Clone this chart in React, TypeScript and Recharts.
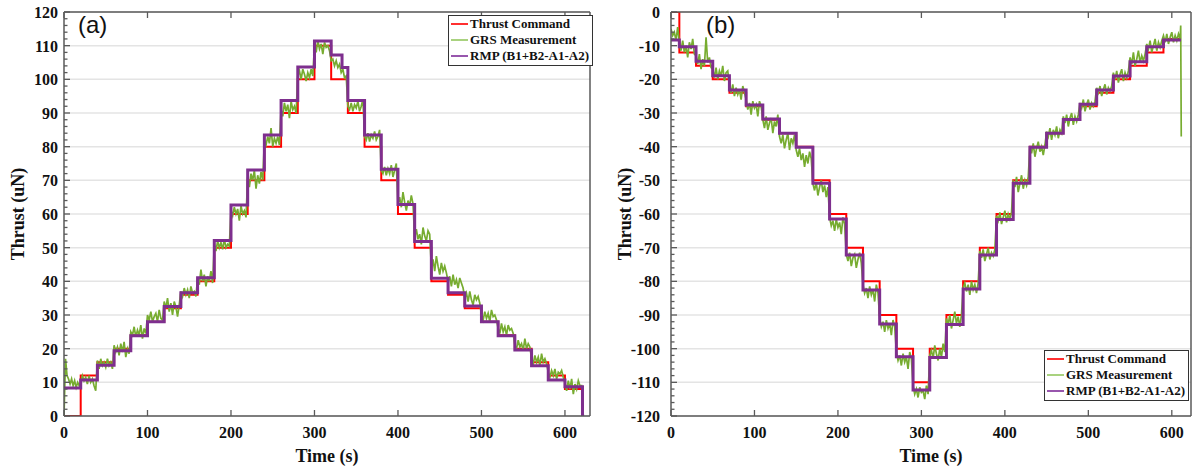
import { LineChart, Line, XAxis, YAxis, CartesianGrid, Legend } from 'recharts';

// series names / colours (legend order = draw order)
const seriesNames = ['Thrust Command', 'GRS Measurement', 'RMP (B1+B2-A1-A2)'];
const seriesColors = ['#ff0000', '#77ac30', '#7e2f8e'];
const legendSwatch = ['#ff3030', '#a9d27f', '#9856ad'];

const axisColor = '#5a5a5a';
const serif = '"Liberation Serif", "Times New Roman", serif';

// ---------- panel (a) ----------
const xTicksA = [0, 100, 200, 300, 400, 500, 600];
const yMajorA = [0, 10, 20, 30, 40, 50, 60, 70, 80, 90, 100, 110, 120];

const cmdTimesA = [0, 20, 40, 60, 80, 100, 120, 140, 160, 180, 200, 220, 240, 260, 280, 300, 320, 340, 360, 380, 400, 420, 440, 460, 480, 500, 520, 540, 560, 580, 600, 621];
const cmdValuesA = [0, 12, 16, 20, 24, 28, 32, 36, 40, 50, 60, 70, 80, 90, 100, 110, 100, 90, 80, 70, 60, 50, 40, 36, 32, 28, 24, 20, 16, 12, 8, 0];

const rmpTimesA = [0, 20, 40, 60, 80, 100, 120, 140, 160, 180, 200, 220, 240, 260, 280, 300, 320, 333, 340, 360, 380, 400, 420, 440, 460, 480, 500, 520, 540, 560, 580, 600, 621, 623];
const rmpValuesA = [8.3, 10.7, 15.1, 19.4, 23.8, 28, 32.5, 36.6, 41.1, 52.1, 62.7, 73.1, 83.5, 93.7, 103.7, 111.4, 107.2, 103.5, 93.7, 83.5, 73.3, 62.8, 51.8, 40.9, 36.6, 32.7, 28, 23.8, 19.6, 14.9, 10.7, 8.7, 0, 0];

const grsStartsA = [0, 20, 40, 60, 80, 100, 120, 140, 160, 180, 200, 220, 240, 260, 280, 300, 320, 340, 360, 380, 400, 420, 440, 460, 480, 500, 520, 540, 560, 580, 600, 620, 622];
const grsA = [
  [0, 17, 12, 11, 9.5, 11, 9, 10.5, 8.5, 10, 9],
  [10, 12, 10.5, 11.5, 9.5, 12, 10, 11, 9, 7.5],
  [16.5, 14, 17, 15, 16, 14.5, 17, 15, 16, 14],
  [21, 19, 20.5, 18, 21.5, 19, 22, 17.5, 20, 18.5],
  [25, 24, 26.5, 23.5, 25.5, 24, 27, 23, 26, 24.5],
  [30, 28.5, 31, 28, 29.5, 30.5, 28, 31.5, 29, 28.5],
  [34, 32, 35, 31, 33.5, 30, 34, 32.5, 29.5, 33],
  [37, 35.5, 38, 36, 37.5, 35, 38.5, 36.5, 37, 35.5],
  [41, 39, 43.5, 40, 42, 38.5, 41.5, 40, 43, 39.5],
  [51, 49, 52, 50, 51.5, 49.5, 52.5, 50, 51, 50.5],
  [61, 59.5, 62, 60, 61.5, 58, 62.5, 60, 61, 59],
  [71, 68, 72, 70, 73, 67.5, 71.5, 69, 72.5, 70],
  [82, 80.5, 83, 81, 85.5, 80, 82.5, 81, 83, 80.5],
  [91, 89, 93, 90.5, 92.5, 88.5, 93.5, 91, 92, 90],
  [101, 102.5, 100, 103, 101.5, 99.5, 102, 100.5, 103, 101],
  [110, 108, 111.5, 109, 110.5, 107.5, 111, 109.5, 110, 108.5],
  [105.5, 106, 104, 105.5, 103.5, 104.5, 102, 103, 100.5, 101],
  [92, 91, 93, 90.5, 92.5, 91.5, 93.5, 90.5, 92, 94],
  [83, 82, 84, 81.5, 83.5, 82.5, 84.5, 82, 83, 85],
  [73, 72, 74, 71.5, 73.5, 72, 74.5, 71, 73, 75],
  [63, 65, 62, 66.5, 63.5, 61, 64, 62.5, 65.5, 63],
  [53, 55.5, 52.5, 54, 51, 56, 53.5, 52, 55, 54],
  [44, 46.5, 43, 47.5, 44.5, 42, 45.5, 43, 44.5, 42.5],
  [40, 41.5, 38.5, 42, 39, 40.5, 38, 41, 39.5, 38],
  [35, 36.5, 34, 37, 34.5, 33, 36, 34.5, 35.5, 33.5],
  [30, 28.5, 31, 29, 30.5, 28, 31.5, 29.5, 30, 28.5],
  [26, 24.5, 27.5, 25, 26.5, 24, 27, 25.5, 26, 24.5],
  [21, 20, 22.5, 20.5, 21.5, 19.5, 23, 20, 21.5, 20.5],
  [17, 15.5, 18, 16, 17.5, 15, 18.5, 16, 17, 15.5],
  [13, 11.5, 13.5, 12, 14, 11, 13, 12.5, 13.5, 11.5],
  [10, 7.5, 10.5, 8, 11, 6.5, 9.5, 8, 10.5, 9],
  [9, 9],
];

// ---------- panel (b) ----------
const xTicksB = [0, 100, 200, 300, 400, 500, 600];
const yMajorB = [-120, -110, -100, -90, -80, -70, -60, -50, -40, -30, -20, -10, 0];

const cmdTimesB = [0, 10, 30, 50, 70, 90, 110, 130, 150, 170, 190, 210, 230, 250, 270, 290, 310, 330, 350, 370, 390, 410, 430, 450, 470, 490, 510, 530, 550, 570, 590, 611];
const cmdValuesB = [0, -12, -16, -20, -24, -28, -32, -36, -40, -50, -60, -70, -80, -90, -100, -110, -100, -90, -80, -70, -60, -50, -40, -36, -32, -28, -24, -20, -16, -12, -8, -8];

const rmpTimesB = cmdTimesB;
const rmpValuesB = [-8.3, -10.3, -14.6, -18.9, -23.2, -27.6, -31.8, -36, -40.2, -50.9, -61.5, -72.2, -82.6, -92.7, -102.4, -112.3, -102.6, -92.8, -82.3, -72.2, -61.6, -50.9, -40.2, -36, -31.9, -27.4, -23.2, -19, -14.8, -10.3, -8.3, -8.3];

const grsStartsB = [0, 10, 30, 50, 70, 90, 110, 130, 150, 170, 190, 210, 230, 250, 270, 290, 310, 330, 350, 370, 390, 410, 430, 450, 470, 490, 510, 530, 550, 570, 590, 610, 612];
const grsB = [
  [-5, -7, -6, -8.5, -4.5],
  [-9, -11.5, -8.5, -12, -10, -13.5, -9, -11, -8, -12.5],
  [-13, -15.5, -12.5, -17, -14, -16, -7.5, -15, -13.5, -16.5],
  [-17, -19.5, -16.5, -20, -17.5, -19, -16, -20.5, -18, -17.5],
  [-22, -24, -21.5, -25, -22.5, -24.5, -23, -26, -22, -24],
  [-26, -29, -27, -30.5, -26.5, -28.5, -27.5, -31, -26.5, -28],
  [-32, -34.5, -31, -35, -33, -31.5, -36, -32.5, -34, -30.5],
  [-37, -39, -36.5, -40.5, -38, -36, -41, -37.5, -39, -36.5],
  [-41, -43, -40.5, -44, -42, -46, -42.5, -45, -41.5, -43.5],
  [-51, -53, -50.5, -54.5, -52, -50, -53.5, -51.5, -55, -52],
  [-61, -63.5, -62, -65, -61.5, -64, -62.5, -66, -61, -63],
  [-72, -74, -71.5, -75.5, -73, -72, -76, -73.5, -71.5, -74.5],
  [-81, -83.5, -82, -85, -81.5, -84, -82.5, -86, -81, -83.5],
  [-91, -93.5, -92, -95, -91.5, -94, -92.5, -96, -91.5, -93.5],
  [-101, -103.5, -102, -105, -101.5, -104, -102.5, -106, -101, -103],
  [-111, -113.5, -112, -114.5, -111.5, -113, -112.5, -115, -111, -113.5],
  [-102, -100.5, -103, -99, -101.5, -103.5, -100, -102.5, -98.5, -101],
  [-91, -93, -90, -94, -91.5, -89, -92.5, -90.5, -93.5, -90],
  [-82, -80.5, -83, -81, -84, -80, -82.5, -81, -83.5, -80.5],
  [-71, -73, -70.5, -74, -72, -70, -73.5, -71.5, -72.5, -70.5],
  [-60.5, -62, -59.5, -63, -61, -59, -62.5, -60, -61.5, -59.5],
  [-50, -52, -49, -53.5, -51, -48.5, -52.5, -50, -51.5, -49],
  [-40, -42, -39, -43, -40.5, -38.5, -41.5, -40, -42.5, -39.5],
  [-35.5, -37, -34.5, -38, -35, -36.5, -34, -37.5, -35, -36],
  [-31, -33, -30.5, -34, -31.5, -30, -33.5, -31, -32.5, -30.5],
  [-27, -28.5, -26, -29.5, -27.5, -26, -29, -27, -28, -26.5],
  [-22.5, -24, -22, -25, -23, -21.5, -24.5, -22.5, -23.5, -22],
  [-18, -20, -17.5, -21, -18.5, -17, -20.5, -18, -19.5, -17.5],
  [-13.5, -15.5, -12, -16, -14, -11.5, -15, -13, -14.5, -12.5],
  [-9.5, -11, -8.5, -12, -10, -8, -11.5, -9, -10.5, -8.5],
  [-7, -9, -6.5, -9.5, -7.5, -6, -9, -7, -8.5, -6.5],
  [-8, -4, -37],
];

// helpers to turn the arrays into {t, v} points
const toSteps = (ts: number[], vs: number[]) => ts.map((t, i) => ({ t, v: vs[i] }));
const toSamples = (starts: number[], rows: number[][]) =>
  rows.flatMap((row, k) =>
    row.map((v, i) => ({ t: starts[k] + (i * (starts[k + 1] - starts[k])) / row.length, v }))
  );

// minor ticks every 2 units between the labelled ones
const withMinor = (major: number[]) => {
  const out: number[] = [];
  for (let v = major[0]; v <= major[major.length - 1]; v += 2) out.push(v);
  return out;
};

const LeftTick = ({ x, y, payload, gap }: any) => {
  const major = payload.value % 10 === 0;
  return (
    <g>
      <line x1={x} x2={x + (major ? 6 : 3.5)} y1={y} y2={y} stroke={axisColor} strokeWidth={1.3} />
      {major && (
        <text x={x - gap} y={y} dy={6} textAnchor="end" fontFamily={serif} fontWeight="bold" fontSize={16} fill="#111">
          {payload.value}
        </text>
      )}
    </g>
  );
};

const RightTick = ({ x, y, payload }: any) => {
  const major = payload.value % 10 === 0;
  return <line x1={x} x2={x - (major ? 6 : 3.5)} y1={y} y2={y} stroke={axisColor} strokeWidth={1.3} />;
};

const BottomTick = ({ x, y, payload }: any) => (
  <g>
    <line x1={x} x2={x} y1={y} y2={y - 6} stroke={axisColor} strokeWidth={1.3} />
    <text x={x} y={y + 22} textAnchor="middle" fontFamily={serif} fontWeight="bold" fontSize={16} fill="#111">
      {payload.value}
    </text>
  </g>
);

const TopTick = ({ x, y }: any) => (
  <line x1={x} x2={x} y1={y} y2={y + 6} stroke={axisColor} strokeWidth={1.3} />
);

const LegendBox = () => (
  <div
    style={{
      border: '1px solid #333',
      background: '#fff',
      padding: '0px 3px 1px 2px',
      fontFamily: serif,
      fontWeight: 'bold',
      fontSize: 13,
      lineHeight: '16px',
      color: '#111',
    }}
  >
    {seriesNames.map((n, i) => (
      <div key={n} style={{ display: 'flex', alignItems: 'center', whiteSpace: 'nowrap' }}>
        <span style={{ display: 'inline-block', width: 17, height: 2, background: legendSwatch[i], marginRight: 2 }} />
        {n}
      </div>
    ))}
  </div>
);

type PanelProps = {
  width: number;
  marginRight: number;
  xMax: number;
  xTicks: number[];
  yMajor: number[];
  tickGap: number;
  tag: string;
  tagX: number;
  cmd: { t: number; v: number }[];
  grs: { t: number; v: number }[];
  rmp: { t: number; v: number }[];
  legendPos: { left: number; top: number };
};

const Panel = ({ width, marginRight, xMax, xTicks, yMajor, tickGap, tag, tagX, cmd, grs, rmp, legendPos }: PanelProps) => {
  const plotLeft = 64;
  const plotRight = width - marginRight - 2;
  const yMid = (12 + 416) / 2;
  return (
    <LineChart width={width} height={470} margin={{ top: 2, right: marginRight, bottom: 0, left: 0 }}>
      <CartesianGrid vertical={false} horizontalValues={yMajor} stroke="#e4e4e4" strokeWidth={1.5} />
      <XAxis
        type="number"
        dataKey="t"
        domain={[0, xMax]}
        ticks={xTicks}
        interval={0}
        allowDataOverflow
        height={54}
        tickLine={false}
        tickSize={0}
        tickMargin={0}
        tick={<BottomTick />}
        axisLine={{ stroke: axisColor, strokeWidth: 1.5 }}
        label={() => (
          <text x={(plotLeft + plotRight) / 2} y={462} textAnchor="middle" fontFamily={serif} fontWeight="bold" fontSize={18} fill="#111">
            Time (s)
          </text>
        )}
      />
      <XAxis
        xAxisId="top"
        orientation="top"
        type="number"
        dataKey="t"
        domain={[0, xMax]}
        ticks={xTicks}
        interval={0}
        allowDataOverflow
        height={10}
        tickLine={false}
        tickSize={0}
        tickMargin={0}
        tick={<TopTick />}
        axisLine={{ stroke: axisColor, strokeWidth: 1.5 }}
      />
      <YAxis
        type="number"
        domain={[yMajor[0], yMajor[yMajor.length - 1]]}
        ticks={withMinor(yMajor)}
        interval={0}
        allowDataOverflow
        width={64}
        tickLine={false}
        tickSize={0}
        tickMargin={0}
        tick={<LeftTick gap={tickGap} />}
        axisLine={{ stroke: axisColor, strokeWidth: 1.5 }}
        label={() => (
          <g>
            <text
              x={18}
              y={yMid}
              transform={`rotate(-90 18 ${yMid})`}
              dy={6}
              textAnchor="middle"
              fontFamily={serif}
              fontWeight="bold"
              fontSize={18}
              fill="#111"
            >
              Thrust (uN)
            </text>
            <text x={tagX} y={33} fontFamily='"Liberation Sans", Arial, sans-serif' fontSize={24} fill="#111">
              {tag}
            </text>
          </g>
        )}
      />
      <YAxis
        yAxisId="right"
        orientation="right"
        type="number"
        domain={[yMajor[0], yMajor[yMajor.length - 1]]}
        ticks={withMinor(yMajor)}
        interval={0}
        width={2}
        tickLine={false}
        tickSize={0}
        tickMargin={0}
        tick={<RightTick />}
        axisLine={{ stroke: axisColor, strokeWidth: 1.5 }}
      />
      <Line data={cmd} dataKey="v" name={seriesNames[0]} type="stepAfter" stroke={seriesColors[0]} strokeWidth={2} dot={false} isAnimationActive={false} />
      <Line data={grs} dataKey="v" name={seriesNames[1]} type="linear" stroke={seriesColors[1]} strokeWidth={1.7} dot={false} isAnimationActive={false} />
      <Line data={rmp} dataKey="v" name={seriesNames[2]} type="stepAfter" stroke={seriesColors[2]} strokeWidth={3} dot={false} isAnimationActive={false} />
      <Legend
        layout="vertical"
        align="center"
        verticalAlign="middle"
        content={<LegendBox />}
        wrapperStyle={{ left: legendPos.left, top: legendPos.top, width: 'auto', height: 'auto' }}
      />
    </LineChart>
  );
};

export default function App() {
  return (
    <div style={{ position: 'absolute', left: 0, top: 0, width: 1193, height: 470, background: '#fff' }}>
      <div style={{ position: 'absolute', left: 0, top: 0 }}>
        <Panel
          width={600}
          marginRight={8}
          xMax={630}
          xTicks={xTicksA}
          yMajor={yMajorA}
          tickGap={6}
          tag="(a)"
          tagX={78}
          cmd={toSteps(cmdTimesA, cmdValuesA)}
          grs={toSamples(grsStartsA, grsA)}
          rmp={toSteps(rmpTimesA, rmpValuesA)}
          legendPos={{ left: 448, top: 15 }}
        />
      </div>
      <div style={{ position: 'absolute', left: 607, top: 0 }}>
        <Panel
          width={586}
          marginRight={0}
          xMax={623}
          xTicks={xTicksB}
          yMajor={yMajorB}
          tickGap={11}
          tag="(b)"
          tagX={99}
          cmd={toSteps(cmdTimesB, cmdValuesB)}
          grs={toSamples(grsStartsB, grsB)}
          rmp={toSteps(rmpTimesB, rmpValuesB)}
          legendPos={{ left: 437, top: 350 }}
        />
      </div>
    </div>
  );
}
